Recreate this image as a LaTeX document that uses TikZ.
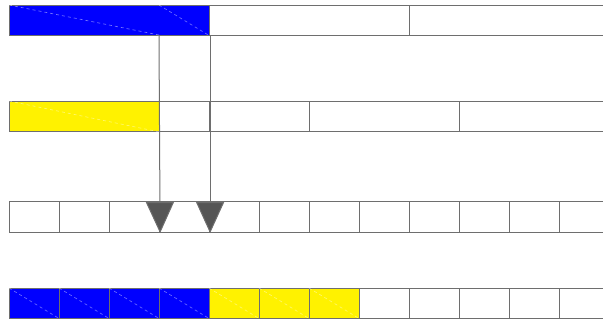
\documentclass[tikz,border=0pt]{standalone}
\usetikzlibrary{arrows.meta}
\definecolor{linegray}{HTML}{6E6E6E}
\definecolor{tipgray}{HTML}{555555}
\begin{document}
\begin{tikzpicture}[x=1pt, y=-1pt,
        cell/.style={draw=linegray, line width=1.1pt, rectangle, inner sep=0pt,
            minimum height=30pt, anchor=north west},
        diag/.style={draw=white, opacity=0.45, line width=0.6pt, dash pattern=on 3pt off 3pt},
        feed/.style={draw=linegray, line width=1pt,
            -{Triangle[width=28pt, length=31pt, fill=tipgray]}}
    ]
    \useasboundingbox (0,0) rectangle (603,322);
    % first row
    \node[cell, fill=blue, minimum width=200pt] (src) at (9,5) {};
    \node[cell, minimum width=200pt] (srcb) at (209,5) {};
    \node[cell, minimum width=200pt] (srcc) at (409,5) {};
    \coordinate (split) at (159,35);
    \draw[diag] (src.north west) -- (split);
    \draw[diag] (split |- src.north) -- (src.south east);
    % second row
    \node[cell, fill=yellow, minimum width=150pt] (ins) at (9,101) {};
    \node[cell, minimum width=50pt] (insb) at (159,101) {};
    \node[cell, minimum width=100pt] (insc) at (209,101) {};
    \node[cell, minimum width=150pt] (insd) at (309,101) {};
    \node[cell, minimum width=150pt] (inse) at (459,101) {};
    \draw[diag] (ins.north west) -- (ins.south east);
    % third row
    \foreach \i in {0,...,12}
        \node[cell, minimum width=50pt, minimum height=31pt] (dst\i) at ({9+50*\i},201) {};
    % fourth row
    \foreach \i in {0,...,12} {
        \ifnum\i<4
            \node[cell, fill=blue, minimum width=50pt] (out\i) at ({9+50*\i},288) {};
            \draw[diag] (out\i.north west) -- (out\i.south east);
        \else\ifnum\i<7
            \node[cell, fill=yellow, minimum width=50pt] (out\i) at ({9+50*\i},288) {};
            \draw[diag] (out\i.north west) -- (out\i.south east);
        \else
            \node[cell, minimum width=50pt] (out\i) at ({9+50*\i},288) {};
        \fi\fi
    }
    % connectors
    \draw[feed] (split) -- (dst2.south east);
    \draw[feed] (src.south east) -- (dst3.south east);
\end{tikzpicture}
\end{document}
